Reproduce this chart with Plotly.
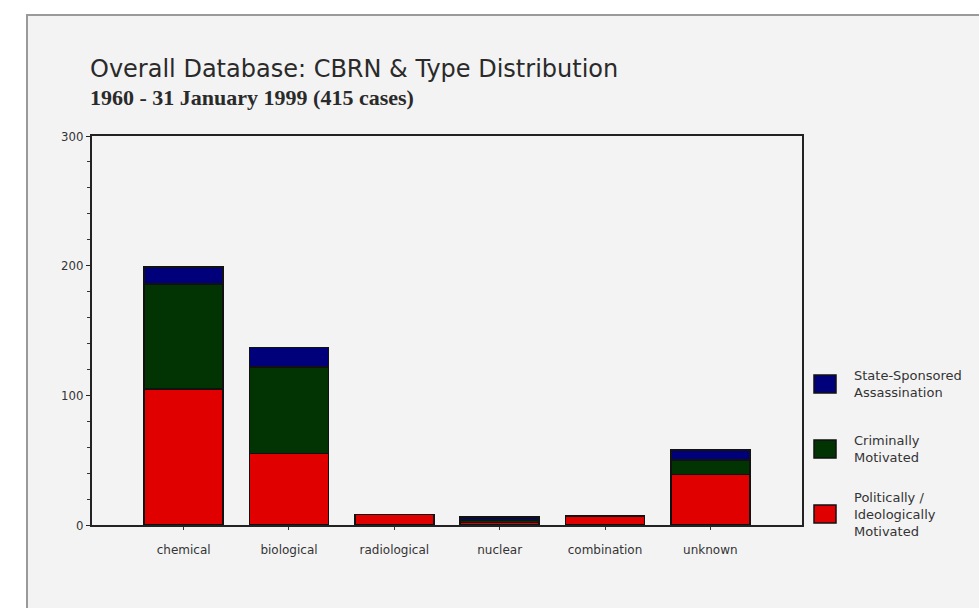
import plotly.graph_objects as go

categories = ["chemical", "biological", "radiological", "nuclear", "combination", "unknown"]
politically = [105, 55, 8, 2, 7, 39]
criminally = [81, 67, 0, 2, 0, 11]
state_sponsored = [13, 15, 0, 2, 0, 8]

series_names = ["Politically /<br>Ideologically<br>Motivated", "Criminally<br>Motivated", "State-Sponsored<br>Assassination"]
colors = ["#e00000", "#023302", "#00007a"]

fig = go.Figure()
for name, vals, col in zip(series_names, [politically, criminally, state_sponsored], colors):
    fig.add_trace(go.Bar(x=categories, y=vals, name=name, marker=dict(color=col, line=dict(color="#111", width=1.5)),
                         width=0.75, showlegend=False))

L, R, T, B = 92, 802, 136, 525
W, H = 979, 608
pw, ph = R - L, B - T
def px(x): return (x - L) / pw
def py(y): return (B - y) / ph

shapes = [dict(type="rect", xref="paper", yref="paper", x0=px(27), x1=px(990), y0=py(620), y1=py(15),
               fillcolor="#f3f3f3", line=dict(color="#9a9a9a", width=2), layer="below")]
annotations = []
legend_items = [(series_names[2], colors[2], 384), (series_names[1], colors[1], 449), (series_names[0], colors[0], 514)]
for name, col, yc in legend_items:
    shapes.append(dict(type="rect", xref="paper", yref="paper", x0=px(814), x1=px(836), y0=py(yc + 9), y1=py(yc - 9),
                       fillcolor=col, line=dict(color="#111", width=1.5)))
    annotations.append(dict(xref="paper", yref="paper", x=px(852), y=py(yc), text=name, showarrow=False,
                            xanchor="left", yanchor="middle", align="left",
                            font=dict(family="DejaVu Sans", size=13, color="#333")))

annotations.append(dict(xref="paper", yref="paper", x=px(88), y=py(69), text="Overall Database: CBRN &amp; Type Distribution",
                        showarrow=False, xanchor="left", yanchor="middle",
                        font=dict(family="DejaVu Sans", size=24, color="#2a2a2a")))
annotations.append(dict(xref="paper", yref="paper", x=px(88), y=py(97), text="<b>1960 - 31 January 1999 (415 cases)</b>",
                        showarrow=False, xanchor="left", yanchor="middle",
                        font=dict(family="Liberation Serif, Times New Roman", size=22, color="#2a2a2a")))

fig.update_layout(
    width=W, height=H,
    margin=dict(l=L, r=W - R, t=T, b=H - B, autoexpand=False),
    paper_bgcolor="white", plot_bgcolor="#f7f7f7",
    barmode="stack", shapes=shapes, annotations=annotations,
    showlegend=False,
)
fig.update_xaxes(range=[-0.87, 5.87], showline=True, linecolor="#222", linewidth=2, mirror=True,
                 ticks="outside", ticklen=3, tickcolor="#333", showgrid=False, ticklabelstandoff=10,
                 tickfont=dict(family="DejaVu Sans", size=12, color="#333"))
fig.update_yaxes(range=[0, 300], tickvals=[0, 100, 200, 300], showline=True, linecolor="#222", linewidth=2, mirror=True,
                 ticks="outside", ticklen=4, tickcolor="#222", showgrid=False, zeroline=False,
                 minor=dict(dtick=20, ticks="outside", ticklen=3, tickcolor="#333", showgrid=False),
                 tickfont=dict(family="DejaVu Sans Condensed, DejaVu Sans", size=13, color="#333"))

fig.write_html("out.html", config={"displayModeBar": False},
               post_script="document.body.style.margin='0';")
